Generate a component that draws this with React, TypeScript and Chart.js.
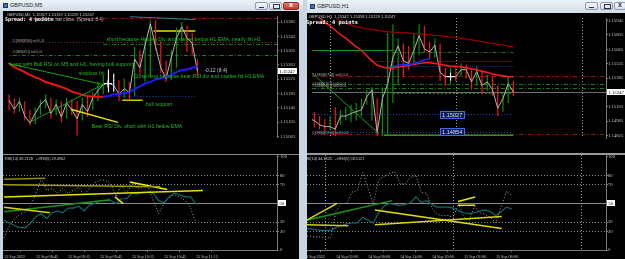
import React, { useEffect, useRef } from 'react';
import { Chart, registerables } from 'chart.js';

Chart.register(...registerables);

/* ================= Left window : GBPUSD,M5 ================= */
const leftTimeLabels = ['15 Sep 2022', '15 Sep 08:45', '15 Sep 09:15', '15 Sep 09:45', '15 Sep 10:15', '15 Sep 10:45', '15 Sep 11:15'];
const leftTimeTickBars = [0, 6, 12, 18, 24, 30, 36];
const leftPriceTicks = [1.15385, 1.15345, 1.15305, 1.15265, 1.15225, 1.15185, 1.15145, 1.15105, 1.15065];
const leftCurrentPrice = 1.15247;

const leftClose = [1.15166, 1.15141, 1.15163, 1.15122, 1.15102, 1.15129, 1.15154, 1.15168, 1.15129, 1.15154, 1.15119, 1.15159, 1.15139, 1.15114, 1.15154, 1.15134, 1.15173, 1.15193, 1.1521, 1.15213, 1.15208, 1.15183, 1.15198, 1.15188, 1.15281, 1.15257, 1.15321, 1.1538, 1.15316, 1.15257, 1.15227, 1.15286, 1.1534, 1.15372, 1.1534, 1.15326, 1.15247];
const leftHigh = [1.15183, 1.15171, 1.15173, 1.15163, 1.15139, 1.15144, 1.15168, 1.15183, 1.15173, 1.15168, 1.15163, 1.15173, 1.15168, 1.15163, 1.15173, 1.15178, 1.15188, 1.15217, 1.15237, 1.15252, 1.1524, 1.15222, 1.15227, 1.15217, 1.15316, 1.15306, 1.15336, 1.1539, 1.1539, 1.15331, 1.15277, 1.15306, 1.1537, 1.15385, 1.15375, 1.15355, 1.15281];
const leftLow = [1.15139, 1.15129, 1.15134, 1.15109, 1.15095, 1.15099, 1.15124, 1.15144, 1.15114, 1.15124, 1.15104, 1.15114, 1.15124, 1.15067, 1.15109, 1.15119, 1.15139, 1.15163, 1.15183, 1.15188, 1.1519, 1.15163, 1.15173, 1.15168, 1.15178, 1.15237, 1.15217, 1.15232, 1.15306, 1.15242, 1.15217, 1.15222, 1.15257, 1.15331, 1.15301, 1.15291, 1.15232];
// d = down bar, u = up bar, s = selected bar
const leftBarKind = ['d', 'd', 'u', 'd', 'd', 'u', 'u', 'u', 'd', 'u', 'd', 'u', 'd', 'd', 'u', 'd', 'u', 'u', 'u', 's', 's', 'd', 'u', 'd', 'u', 'd', 'u', 'u', 'd', 'd', 'd', 'u', 'u', 'u', 'd', 'd', 'd'];
const leftEmaBear = [1.15269, 1.15259, 1.15252, 1.15245, 1.15237, 1.1523, 1.15225, 1.15217, 1.15213, 1.15208, 1.15203, 1.15198, 1.1519, 1.15186, 1.15181, 1.15178, 1.15176, 1.15176, 1.15176];
const leftEmaBullStart = 18;
const leftEmaBull = [1.15176, 1.15178, 1.15183, 1.15183, 1.15186, 1.15188, 1.15198, 1.15205, 1.15213, 1.15217, 1.15225, 1.15227, 1.15232, 1.15237, 1.15245, 1.1525, 1.15252, 1.15257, 1.15262];
const leftRsi14 = [32, 29, 26, 24, 24, 29, 36, 39, 34, 40, 42, 40, 45, 45, 47, 42, 48, 50, 53, 53, 53, 50, 55, 55, 61, 60, 62, 62, 61, 53, 51, 57, 61, 59, 57, 57, 49];
const leftRsi5 = [13, 26, 34, 38, 41, 48, 61, 77, 64, 66, 61, 66, 61, 64, 67, 59, 66, 72, 75, 75, 71, 57, 70, 61, 72, 66, 68, 68, 53, 39, 50, 58, 59, 57, 53, 45, 29];
// [price, fromBar, toBar]
const leftLevels = [
  [1.15395, -1, 52],
  [1.15327, -1, 52],
  [1.15323, 18, 52],
  [1.15291, -1, 52],
  [1.15176, 18.2, 35.6],
  [1.15252, 24.4, 35.6],
  [1.1536, 27.6, 35.6],
  [1.15166, 21.6, 25.5],
];
// [bar0, price0, bar1, price1]
const leftTrendLines = [
  [-0.2, 1.15269, 18.0, 1.1521],
  [3.9, 1.15104, 18.0, 1.1521],
  [11.8, 1.15141, 20.8, 1.15104],
  [23.1, 1.154, 35.5, 1.15392],
];
const leftCrossMark = [18.9, 1.15213];
const leftRsiTrend = [
  [0, 76, 7.7, 77],
  [0, 70, 29.3, 68],
  [0, 57, 37.3, 64],
  [0, 46, 8.6, 40],
  [0, 41, 19.9, 54],
  [20.8, 57, 22.3, 50],
  [23.6, 73, 30.6, 65],
];
const leftNotes = [
  'Long with Bull RSI on M5 and H1, having bull support',
  'stoploss hit',
  'short because Hidden Div and market below H1 EMA, nearly hit H1',
  'Close long because bear RSI div and market hit H1 EMA',
  'bull support',
  'Bear RSI Div, short with H1 below EMA',
];
const leftNoteAt = [[0.2, 1.15267], [13.3, 1.1524], [18.6, 1.15336], [23.8, 1.15232], [26.1, 1.15154], [15.8, 1.15092]];
const leftProfitText = '-0.12 (8.4)';
const leftProfitAt = [37.3, 1.15249];
const leftOrderTexts = ['#12868[8706] sell 0.01', '#1286[6701] sell 0.01'];
const leftOrderTextAt = [[0.6, 1.15333], [0.6, 1.15301]];

/* ================= Right window : GBPUSD,H1 ================= */
const rightTimeLabels = ['13 Sep 2022', '14 Sep 02:00', '14 Sep 08:00', '14 Sep 14:00', '14 Sep 20:00', '15 Sep 02:00', '15 Sep 08:00'];
const rightTimeTickBars = [0, 6, 12, 18, 24, 30, 36];
const rightDaySeparators = [4, 28, 52];
const rightPriceTicks = [1.15945, 1.15805, 1.15665, 1.15525, 1.15385, 1.15105, 1.14965, 1.14825];
const rightCurrentPrice = 1.15247;

const rightClose = [1.14987, 1.1497, 1.14928, 1.1491, 1.1491, 1.14885, 1.15013, 1.15013, 1.15039, 1.15056, 1.15073, 1.15201, 1.1527, 1.14851, 1.15184, 1.15329, 1.15586, 1.15697, 1.15552, 1.15526, 1.15654, 1.158, 1.15671, 1.15637, 1.15706, 1.15441, 1.15398, 1.15398, 1.15398, 1.15466, 1.15466, 1.15347, 1.15449, 1.15312, 1.15347, 1.1527, 1.1509, 1.15184, 1.15329, 1.15247];
const rightHigh = [1.15099, 1.15056, 1.15013, 1.14987, 1.15013, 1.15099, 1.15073, 1.15099, 1.15124, 1.15141, 1.15184, 1.1527, 1.15295, 1.15184, 1.15295, 1.15825, 1.15911, 1.15774, 1.15723, 1.15697, 1.15825, 1.15911, 1.15894, 1.1574, 1.15774, 1.15723, 1.15483, 1.15483, 1.155, 1.15526, 1.15518, 1.15483, 1.155, 1.15466, 1.15415, 1.15398, 1.15312, 1.15227, 1.15398, 1.15355];
const rightLow = [1.14928, 1.14902, 1.14885, 1.14868, 1.14885, 1.14816, 1.14928, 1.1497, 1.14953, 1.1497, 1.15013, 1.15124, 1.1497, 1.14816, 1.14816, 1.14825, 1.15141, 1.15312, 1.15398, 1.15466, 1.15526, 1.15612, 1.15637, 1.15569, 1.15586, 1.15355, 1.15312, 1.15329, 1.15355, 1.15398, 1.15381, 1.1527, 1.15312, 1.15227, 1.15261, 1.1521, 1.15013, 1.15056, 1.15141, 1.1521];
const rightBarKind = ['d', 'd', 'd', 'd', 'u', 'd', 'u', 'u', 'u', 'u', 'u', 'u', 'u', 'd', 'u', 'u', 'u', 'u', 'd', 'd', 'u', 'u', 'd', 'd', 'u', 'd', 'd', 'u', 'd', 'u', 'd', 'd', 'u', 'd', 'u', 'd', 'd', 'u', 'u', 'd'];
const rightEmaFast = [1.16048, 1.16013, 1.15971, 1.15928, 1.15894, 1.15851, 1.15808, 1.15774, 1.15731, 1.15689, 1.15654, 1.15603, 1.15552, 1.15509, 1.15492, 1.15483, 1.15483, 1.15492, 1.155, 1.15509, 1.15518, 1.15526, 1.15535, 1.15535, 1.15526, 1.15518, 1.15509, 1.155, 1.155, 1.15492, 1.15483, 1.15475, 1.15466, 1.15449, 1.15441, 1.15423, 1.15415, 1.15406, 1.15398, 1.15398];
const rightEmaBullStart = 16;
const rightEmaBull = [1.155, 1.15509, 1.15518, 1.15518, 1.15526, 1.15543, 1.1556, 1.15577];
const rightEmaSlowStart = 3;
const rightEmaSlow = [1.16048, 1.16013, 1.15979, 1.15945, 1.15919, 1.15902, 1.15885, 1.15877, 1.15864, 1.1586, 1.15851, 1.15842, 1.15838, 1.15834, 1.1583, 1.15825, 1.15825, 1.15817, 1.15817, 1.15808, 1.15808, 1.158, 1.158, 1.15791, 1.15783, 1.15783, 1.15774, 1.15765, 1.15757, 1.15748, 1.1574, 1.15731, 1.15723, 1.15714, 1.15706, 1.15697, 1.15689];
const rightRsi14 = [23, 23, 22, 21, 21, 21, 24, 26, 28, 29, 29, 35, 32, 29, 40, 47, 50, 49, 48, 49, 51, 57, 51, 53, 49, 46, 46, 46, 45, 42, 40, 39, 40, 42, 43, 41, 37, 41, 46, 44];
const rightRsi5 = [15, 15, 14, 14, 13, 13, 42, 50, 50, 62, 64, 83, 67, 50, 75, 79, 82, 84, 71, 71, 78, 80, 62, 61, 45, 38, 37, 37, 35, 50, 35, 32, 47, 40, 38, 35, 29, 47, 63, 58];
const rightOrderLevels = [1.15398, 1.14836];
const rightSellLevels = [1.15321, 1.15284];
// [price, fromBar, toBar]
const rightLevels = [
  [1.15637, 16.1, 39],
  [1.15654, 0, 16.1],
  [1.15546, 11.4, 39],
  [1.15233, 16, 39],
  [1.14825, 14.3, 39],
  [1.15498, 15, 39],
];
const rightPriceMarks = [1.15027, 1.14854];
const rightPriceMarkBar = 27.3;
const rightTrendLine = [0, 1.15458, 13.3, 1.14842];
const rightCrossMark = [27, 1.15398];
const rightRsiTrend = [
  [0.5, 32, 6.2, 50],
  [0.5, 27, 8.3, 26],
  [0.5, 32, 16.5, 53],
  [13.3, 43, 37.1, 23],
  [13.3, 27, 37.1, 36],
  [28.9, 52, 32.1, 57],
  [28.9, 48, 32.1, 48],
];
const rightOrderTexts = ['#12868[6708] sell 0.01', '#1286[6701] sell 0.01', '#1286[6701] sell 0.01', '#12868[6706] sell 0.01'];
const rightOrderTextAt = [[0.6, 1.15415], [0.6, 1.15329], [0.6, 1.15304], [0.6, 1.14851]];

const rsiTicks = [100, 80, 70, 30, 20, 0];
const rsiDottedLevels = [80, 70, 30, 20];
const rsiMidLevel = 50;

/* ================= rendering helpers ================= */
const SANS = "'Liberation Sans', Arial, sans-serif";
const SERIF = "'Liberation Serif', 'Times New Roman', serif";
const MONO = "'DejaVu Sans Mono', 'Liberation Mono', monospace";
const NOTE = '#26b826';
const DASHDOT = [4, 2, 1, 2];
const DOT = [1, 2];

const barColor = (k: string) => (k === 'u' ? '#0c900c' : k === 's' ? '#f2f2f2' : '#f01818');

function overlay(o: any) {
  return {
    id: 'mtOverlay',
    beforeDraw(chart: any) {
      const { ctx, width, height } = chart;
      ctx.save();
      ctx.fillStyle = '#000';
      ctx.fillRect(0, 0, width, height);
      if (o.topLine) {
        ctx.fillStyle = o.topLine.color;
        ctx.fillRect(0, 0, width, o.topLine.width);
      }
      ctx.restore();
    },
    beforeDatasetsDraw(chart: any) {
      const { ctx, chartArea: a } = chart;
      const xs = chart.scales.x;
      const ys = chart.scales.y;
      ctx.save();
      ctx.beginPath();
      ctx.rect(a.left, a.top, a.right - a.left, a.bottom - a.top);
      ctx.clip();
      for (const v of o.vlines || []) {
        const px = Math.round(xs.getPixelForValue(v.x)) + 0.5;
        ctx.strokeStyle = v.color;
        ctx.lineWidth = 1;
        ctx.setLineDash(v.dash || []);
        ctx.beginPath();
        ctx.moveTo(px, a.top);
        ctx.lineTo(px, a.bottom);
        ctx.stroke();
      }
      for (const h of o.hlines || []) {
        const w = h.width || 1;
        let py = ys.getPixelForValue(h.y);
        py = w === 1 ? Math.round(py - 0.5) + 0.5 : py;
        const x0 = h.from === undefined ? a.left : xs.getPixelForValue(h.from);
        const x1 = h.to === undefined ? a.right : xs.getPixelForValue(h.to);
        ctx.strokeStyle = h.color;
        ctx.lineWidth = w;
        ctx.setLineDash(h.dash || []);
        ctx.beginPath();
        ctx.moveTo(x0, py);
        ctx.lineTo(x1, py);
        ctx.stroke();
      }
      ctx.restore();
    },
    afterDraw(chart: any) {
      const { ctx, chartArea: a } = chart;
      const xs = chart.scales.x;
      const ys = chart.scales.y;
      ctx.save();
      for (const b of o.boxes || []) {
        const cx = xs.getPixelForValue(b.x);
        const cy = ys.getPixelForValue(b.y);
        ctx.font = `5.6px ${SANS}`;
        const w = Math.round(ctx.measureText(b.text).width + 5);
        const h = 8;
        const l = Math.round(cx - w / 2);
        const t = Math.round(cy - h / 2);
        ctx.fillStyle = '#0d1a55';
        ctx.fillRect(l, t, w, h);
        ctx.strokeStyle = '#4468e8';
        ctx.lineWidth = 1;
        ctx.strokeRect(l + 0.5, t + 0.5, w - 1, h - 1);
        ctx.fillStyle = '#d2e0ff';
        ctx.textAlign = 'center';
        ctx.textBaseline = 'middle';
        ctx.fillText(b.text, cx, cy + 0.5);
      }
      for (const t of o.texts || []) {
        const px = t.pix ? t.x : xs.getPixelForValue(t.x);
        const py = t.pix ? t.y : ys.getPixelForValue(t.y);
        ctx.font = t.font;
        ctx.fillStyle = t.color;
        ctx.textAlign = t.align || 'left';
        ctx.textBaseline = t.pix ? 'top' : 'middle';
        ctx.fillText(t.text, px, py);
      }
      for (const ab of o.axisBoxes || []) {
        const cy = ys.getPixelForValue(ab.value);
        ctx.font = `4.7px ${SERIF}`;
        const w = Math.ceil(ctx.measureText(ab.text).width + 3);
        ctx.fillStyle = '#ffffff';
        ctx.fillRect(a.right + 1, Math.round(cy - 3), w, 6);
        ctx.fillStyle = '#000';
        ctx.textAlign = 'left';
        ctx.textBaseline = 'middle';
        ctx.fillText(ab.text, a.right + 2.5, cy + 0.3);
      }
      ctx.restore();
    },
  };
}

const lineDs = (vals: number[], start: number, color: string, width: number, order: number, dash?: number[]) => ({
  type: 'line',
  data: vals.map((v, i) => ({ x: i + start, y: v })),
  borderColor: color,
  borderWidth: width,
  borderDash: dash || [],
  pointRadius: 0,
  tension: 0,
  fill: false,
  order,
});

const segDs = (s: number[], color: string, width: number, order: number) => ({
  type: 'line',
  data: [{ x: s[0], y: s[1] }, { x: s[2], y: s[3] }],
  borderColor: color,
  borderWidth: width,
  pointRadius: 0,
  fill: false,
  order,
});

const crossDs = (p: number[]) => ({
  type: 'line',
  data: [{ x: p[0], y: p[1] }],
  showLine: false,
  pointStyle: 'cross',
  pointRadius: 4,
  pointBorderColor: '#ffffff',
  pointBorderWidth: 1,
  borderColor: '#ffffff',
  order: 1,
});

const barDs = (high: number[], low: number[], kind: string[]) => ({
  type: 'bar',
  data: high.map((h, i) => ({ x: i, y: [low[i], h] })),
  backgroundColor: kind.map(barColor),
  borderWidth: 0,
  barThickness: 1.2,
  inflateAmount: 0,
  grouped: false,
  order: 10,
});

function makeConfig(p: any): any {
  const showX = !!p.xTicks;
  return {
    type: 'bar',
    data: { datasets: p.datasets },
    options: {
      responsive: false,
      maintainAspectRatio: false,
      animation: false,
      devicePixelRatio: 1,
      events: [],
      layout: { padding: { top: p.padTop || 0, left: 0, right: 0, bottom: 0 } },
      plugins: { legend: { display: false }, tooltip: { enabled: false }, title: { display: false } },
      scales: {
        x: {
          type: 'linear',
          min: p.xMin,
          max: p.xMax,
          offset: false,
          bounds: 'data',
          display: showX,
          grid: { drawOnChartArea: false, drawTicks: true, tickLength: 2, color: '#7a7a7a' },
          border: { display: true, color: '#7a7a7a' },
          ticks: {
            autoSkip: false,
            maxRotation: 0,
            minRotation: 0,
            align: 'start',
            padding: 2,
            color: '#c6c6c6',
            font: { family: SERIF, size: 4.2 },
            callback: (v: number) => {
              const k = p.xTicks ? p.xTicks.indexOf(v) : -1;
              return k >= 0 ? p.xLabels[k] : '';
            },
          },
          afterBuildTicks: (s: any) => {
            s.ticks = (p.xTicks || []).map((v: number) => ({ value: v }));
          },
          afterFit: (s: any) => {
            s.height = p.xAxisH || 12;
            s.paddingLeft = 0;
            s.paddingRight = 0;
          },
        },
        y: {
          type: 'linear',
          position: 'right',
          min: p.yMin,
          max: p.yMax,
          bounds: 'data',
          grid: { drawOnChartArea: false, drawTicks: true, tickLength: 2, color: '#7a7a7a' },
          border: { display: true, color: '#7a7a7a' },
          ticks: {
            autoSkip: false,
            padding: p.yPad,
            color: '#c6c6c6',
            font: { family: SERIF, size: 4.7 },
            callback: (v: number) => p.yFmt(v),
          },
          afterBuildTicks: (s: any) => {
            s.ticks = p.yTicks.map((v: number) => ({ value: v }));
          },
          afterFit: (s: any) => {
            s.width = p.yAxisW;
            s.paddingTop = 0;
            s.paddingBottom = 0;
          },
        },
      },
    },
    plugins: [overlay(p.overlay)],
  };
}

const priceFmt = (v: number) => v.toFixed(5);
const rsiFmt = (v: number) => String(v);
const levelStyle = [
  { color: '#8e1414', dash: DASHDOT },
  { color: '#7a3a2a', dash: DOT },
  { color: '#1b7a1b', dash: DASHDOT },
  { color: '#1b7a1b', dash: DASHDOT },
  { color: '#2a36b8', dash: DOT },
  { color: '#2a2a88', dash: DOT },
  { color: '#e4e400', width: 1.5 },
  { color: '#c8c800', width: 1.5 },
];

function leftPriceSpec() {
  return {
    xMin: -0.2, xMax: 51.2, yMin: 1.15063, yMax: 1.15402,
    yTicks: leftPriceTicks, yFmt: priceFmt, yAxisW: 22, yPad: 1,
    datasets: [
      barDs(leftHigh, leftLow, leftBarKind),
      lineDs(leftClose, 0, '#b4b4b4', 1, 8),
      lineDs(leftEmaBear, 0, '#ee1515', 2, 5),
      lineDs(leftEmaBull, leftEmaBullStart, '#1c1cff', 2, 5),
      segDs(leftTrendLines[0], '#17a017', 1, 3),
      segDs(leftTrendLines[1], '#17a017', 1, 3),
      segDs(leftTrendLines[2], '#e4e400', 1.5, 3),
      segDs(leftTrendLines[3], '#1a8a8a', 1, 3),
      crossDs(leftCrossMark),
    ],
    overlay: {
      hlines: leftLevels.map((l, i) => ({ y: l[0], from: l[1], to: l[2], ...levelStyle[i] })),
      texts: [
        ...leftNotes.map((t, i) => ({ x: leftNoteAt[i][0], y: leftNoteAt[i][1], text: t, color: NOTE, font: `5.2px ${SANS}` })),
        { x: leftProfitAt[0], y: leftProfitAt[1], text: leftProfitText, color: '#c8c8c8', font: `5px ${SANS}` },
        ...leftOrderTexts.map((t, i) => ({ x: leftOrderTextAt[i][0], y: leftOrderTextAt[i][1], text: t, color: '#a8a8a8', font: `3.2px ${SANS}` })),
        { pix: true, x: 4, y: 1.5, text: 'GBPUSD,M5  1.15317 1.15319 1.15229 1.15247', color: '#d0d0d0', font: `4px ${SANS}` },
        { pix: true, x: 2, y: 6, text: 'Spread: 4 points', color: '#ffffff', font: `bold 5px ${MONO}` },
        { pix: true, x: 31, y: 6.3, text: '4m:46s to bar close. (Spread: 8.4)', color: '#bdbdbd', font: `4.6px ${SANS}` },
      ],
      axisBoxes: [{ value: leftCurrentPrice, text: priceFmt(leftCurrentPrice) }],
    },
  };
}

function rsiOverlay(legend: string, legendX: number, top: { width: number; color: string }, vlines: any[]) {
  return {
    topLine: top,
    vlines,
    hlines: [
      ...rsiDottedLevels.map((v) => ({ y: v, color: '#8c8c8c', dash: DOT })),
      { y: rsiMidLevel, color: '#8c8c8c' },
    ],
    texts: [{ pix: true, x: legendX, y: top.width + 2, text: legend, color: '#d0d0d0', font: `3.8px ${SANS}` }],
    axisBoxes: [{ value: rsiMidLevel, text: String(rsiMidLevel) }],
  };
}

function leftRsiSpec() {
  const cols = ['#8c8c0a', '#9c9c08', '#e2e200', '#d8d800', '#149614', '#e8e800', '#f4f400'];
  return {
    xMin: -0.2, xMax: 51.2, yMin: 0, yMax: 102, padTop: 1,
    yTicks: rsiTicks, yFmt: rsiFmt, yAxisW: 22, yPad: 1,
    xTicks: leftTimeTickBars, xLabels: leftTimeLabels, xAxisH: 12,
    datasets: [
      lineDs(leftRsi5, 0, '#a4a4a4', 1, 6, DOT),
      lineDs(leftRsi14, 0, '#0f6a6a', 1.2, 5),
      ...leftRsiTrend.map((s, i) => segDs(s, cols[i], 1.5, 3)),
    ],
    overlay: rsiOverlay('RSI(14) 49.2128   ->RSI(5) 29.4902', 2, { width: 1, color: '#8a8a8a' }, []),
  };
}

const rightLevelStyle = [
  { color: '#1b7a1b', dash: DASHDOT },
  { color: '#1b8a1b' },
  { color: '#7a2020', dash: [1, 1] },
  { color: '#1b7a1b', dash: [2, 2] },
  { color: '#1b9a1b', width: 1.5 },
  { color: '#2030a8', dash: [1, 1] },
];

function rightPriceSpec() {
  return {
    xMin: 0.56, xMax: 56.66, yMin: 1.14799, yMax: 1.15971,
    yTicks: rightPriceTicks, yFmt: priceFmt, yAxisW: 19, yPad: 0,
    datasets: [
      barDs(rightHigh, rightLow, rightBarKind),
      lineDs(rightClose, 0, '#b4b4b4', 1, 8),
      lineDs(rightEmaSlow, rightEmaSlowStart, '#990000', 1.2, 6),
      lineDs(rightEmaFast, 0, '#ff1a1a', 1.5, 5),
      lineDs(rightEmaBull, rightEmaBullStart, '#2222ff', 1.5, 4),
      segDs(rightTrendLine, '#17a017', 1, 3),
      crossDs(rightCrossMark),
    ],
    overlay: {
      vlines: rightDaySeparators.map((x) => ({ x, color: '#9a9a9a', dash: DOT })),
      hlines: [
        ...rightOrderLevels.map((y) => ({ y, color: '#8e1414', dash: DASHDOT })),
        ...rightSellLevels.map((y) => ({ y, color: '#1b7a1b', dash: DASHDOT })),
        { y: rightCurrentPrice, color: '#6e6e6e' },
        ...rightLevels.map((l, i) => ({ y: l[0], from: l[1], to: l[2], ...rightLevelStyle[i] })),
        ...rightPriceMarks.map((y) => ({ y, from: 0, to: 39, color: '#2a44c8', dash: DOT })),
      ],
      boxes: rightPriceMarks.map((y) => ({ x: rightPriceMarkBar, y, text: y.toFixed(5) })),
      texts: [
        ...rightOrderTexts.map((t, i) => ({ x: rightOrderTextAt[i][0], y: rightOrderTextAt[i][1], text: t, color: '#a8a8a8', font: `3.6px ${SANS}` })),
        { pix: true, x: 2, y: 1.5, text: 'GBPUSD,H1  1.15342 1.15358 1.15229 1.15247', color: '#d0d0d0', font: `4px ${SANS}` },
        { pix: true, x: -1, y: 6.5, text: 'Spread: 4 points', color: '#ffffff', font: `bold 5.4px ${MONO}` },
      ],
      axisBoxes: [{ value: rightCurrentPrice, text: priceFmt(rightCurrentPrice) }],
    },
  };
}

function rightRsiSpec() {
  const cols = ['#e0e000', '#d0d000', '#149614', '#e0e000', '#d8d800', '#e8e800', '#e8e800'];
  return {
    xMin: 0.56, xMax: 56.66, yMin: 0, yMax: 102, padTop: 2,
    yTicks: rsiTicks, yFmt: rsiFmt, yAxisW: 19, yPad: 0,
    xTicks: rightTimeTickBars, xLabels: rightTimeLabels, xAxisH: 12,
    datasets: [
      lineDs(rightRsi5, 0, '#a4a4a4', 1, 6, DOT),
      lineDs(rightRsi14, 0, '#0f6a6a', 1.2, 5),
      ...rightRsiTrend.map((s, i) => segDs(s, cols[i], 1.5, 3)),
    ],
    overlay: rsiOverlay('RSI(14) 44.4325   ->RSI(5) 58.5121', -3, { width: 2, color: '#9a9a9a' },
      rightDaySeparators.map((x) => ({ x, color: '#9a9a9a', dash: DOT }))),
  };
}

function WinButton({ left, width, kind, red }: any) {
  return (
    <div style={{
      position: 'absolute', left, top: 1.5, width, height: 8, boxSizing: 'border-box',
      border: `1px solid ${red ? '#8c2a20' : '#8d9db0'}`, borderRadius: 2,
      background: red ? 'linear-gradient(#e07a6c,#c23a2a)' : 'linear-gradient(#f4f7fa,#d7e0ea)',
    }}>
      {kind === 'min' && <div style={{ position: 'absolute', left: 3, top: 4, width: width - 8, height: 1, background: '#333' }} />}
      {kind === 'max' && <div style={{ position: 'absolute', left: 3, top: 1.5, width: width - 8, height: 3, border: '1px solid #333', borderTopWidth: 1.5 }} />}
      {kind === 'close' && <div style={{ position: 'absolute', left: 0, top: -1.5, width: '100%', textAlign: 'center', fontSize: 7, lineHeight: '8px', fontFamily: SANS, fontWeight: 'bold', color: red ? '#fff' : '#333' }}>x</div>}
    </div>
  );
}

function TitleBar({ left, width, height, title, red, btn }: any) {
  return (
    <div style={{ position: 'absolute', left, top: 0, width, height, background: 'linear-gradient(#eef3f8,#d2dde9)', overflow: 'hidden' }}>
      <div style={{ position: 'absolute', left: 3, top: (height - 5) / 2, width: 5, height: 5, background: '#3c74b0', border: '0.5px solid #1d3c5c', boxSizing: 'border-box' }} />
      <div style={{ position: 'absolute', left: 10, top: 0, lineHeight: `${height}px`, fontSize: 5.5, fontFamily: SANS, color: '#1b1b1b', whiteSpace: 'nowrap' }}>{title}</div>
      <WinButton left={btn[0]} width={13} kind="min" />
      <WinButton left={btn[1]} width={13} kind="max" />
      <WinButton left={btn[2]} width={btn[3]} kind="close" red={red} />
    </div>
  );
}

export default function App() {
  const lp = useRef<HTMLCanvasElement>(null);
  const lr = useRef<HTMLCanvasElement>(null);
  const rp = useRef<HTMLCanvasElement>(null);
  const rr = useRef<HTMLCanvasElement>(null);

  useEffect(() => {
    const charts = [
      new Chart(lp.current as HTMLCanvasElement, makeConfig(leftPriceSpec())),
      new Chart(lr.current as HTMLCanvasElement, makeConfig(leftRsiSpec())),
      new Chart(rp.current as HTMLCanvasElement, makeConfig(rightPriceSpec())),
      new Chart(rr.current as HTMLCanvasElement, makeConfig(rightRsiSpec())),
    ];
    return () => charts.forEach((c) => c.destroy());
  }, []);

  const abs = (left: number, top: number): React.CSSProperties => ({ position: 'absolute', left, top, display: 'block' });

  return (
    <div style={{ position: 'fixed', left: 0, top: 0, width: 625, height: 259, overflow: 'hidden', background: '#c7d4e2' }}>
      <TitleBar left={0} width={303} height={11} title="GBPUSD,M5" red btn={[255, 269, 283, 16]} />
      <TitleBar left={307} width={318} height={13} title="GBPUSD,H1" btn={[278, 293, 307, 12]} />
      <div style={{ position: 'absolute', left: 3, top: 11, width: 296, height: 248, background: '#000' }} />
      <div style={{ position: 'absolute', left: 307, top: 13, width: 318, height: 246, background: '#000' }} />
      <canvas ref={lp} width={296} height={138} style={abs(3, 11)} />
      <canvas ref={lr} width={296} height={108} style={abs(3, 154)} />
      <canvas ref={rp} width={318} height={137} style={abs(307, 13)} />
      <canvas ref={rr} width={318} height={109} style={abs(307, 153)} />
    </div>
  );
}
